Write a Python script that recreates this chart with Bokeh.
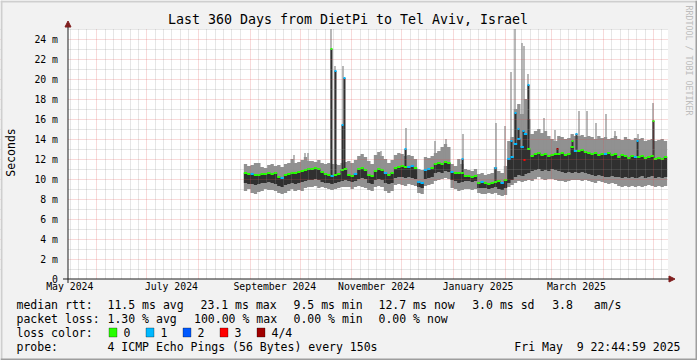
import numpy as np
import pandas as pd
from bokeh.plotting import figure
from bokeh.models import (Range1d, FixedTicker, Label, Arrow, NormalHead,
                          BoxAnnotation, ColumnDataSource)
from bokeh.embed import file_html
from bokeh.resources import INLINE

# ------------------------------------------------------------------ data
graph_end = "2025-05-09 22:44:59"
graph_days = 360
first_sample = "2024-08-28 10:45"
sample_step_days = 2

median_ms = [10.6, 10.5, 10.5, 10.4, 10.4, 10.5, 10.5, 10.6, 10.5, 10.6,
             10.2, 10.1, 10.4, 10.5, 10.6, 10.6, 10.7, 10.8, 10.9, 11.0,
             11.0, 11.1, 11.0, 10.7, 10.5, 10.4, 10.3, 10.4, 10.5, 10.9,
             11.0, 10.4, 10.3, 10.5, 11.0, 11.1, 10.9, 10.4, 10.3, 10.8,
             11.0, 10.9, 10.6, 10.4, 10.6, 11.1, 11.2, 11.3, 11.2, 11.2,
             11.3, 11.1, 9.7, 9.6, 10.9, 11.0, 11.1, 11.5, 11.6, 11.5,
             11.7, 11.6, 10.7, 10.6, 10.6, 10.6, 10.3, 10.3, 10.2, 10.3,
             9.6, 9.7, 9.6, 9.5, 9.6, 9.7, 9.8, 9.6, 9.9, 12.0,
             12.2, 13.5, 14.0, 13.2, 14.5, 13.0, 12.3, 12.5, 12.6, 12.4,
             12.5, 12.3, 12.4, 12.5, 12.5, 12.6, 12.4, 12.5, 13.2, 12.8,
             12.8, 12.9, 12.7, 12.6, 12.5, 12.6, 12.4, 12.5, 12.5, 12.6,
             12.4, 12.5, 12.2, 12.4, 12.3, 12.1, 12.3, 12.2, 12.2, 12.3,
             12.1, 12.2, 12.3, 12.0, 12.1, 12.0, 12.2]
smoke_max_ms = [11.5, 11.3, 11.4, 11.6, 11.6, 11.2, 11.1, 11.4, 11.5, 11.3,
                11.4, 11.2, 11.5, 11.6, 12.0, 11.6, 11.7, 11.9, 12.2, 11.8,
                11.8, 11.7, 11.9, 11.6, 11.5, 11.6, 11.5, 11.5, 11.4, 11.6,
                11.7, 11.8, 11.6, 11.9, 12.3, 12.5, 12.2, 11.8, 11.5, 12.4,
                12.7, 12.3, 12.0, 11.6, 11.9, 12.4, 12.6, 12.5, 12.3, 12.4,
                12.3, 12.0, 11.0, 10.9, 12.2, 12.1, 12.3, 12.6, 12.8, 13.2,
                13.5, 13.2, 11.5, 11.3, 12.0, 11.5, 11.0, 10.9, 10.8, 11.0,
                10.5, 10.6, 10.4, 10.5, 10.6, 11.2, 10.8, 10.6, 11.3, 13.8,
                14.2, 17.0, 17.5, 16.5, 18.0, 16.0, 14.5, 14.8, 15.0, 14.6,
                14.8, 14.3, 14.0, 13.8, 14.3, 14.2, 14.0, 14.1, 14.5, 14.3,
                14.3, 14.4, 14.2, 14.3, 14.2, 14.0, 14.3, 14.1, 14.2, 14.0,
                14.1, 14.3, 14.0, 13.9, 14.2, 14.0, 13.9, 14.1, 14.0, 14.1,
                13.8, 13.9, 14.0, 13.8, 13.9, 14.0, 13.8]
smoke_min_ms = [8.8, 9.0, 8.6, 8.5, 8.7, 8.8, 9.0, 8.9, 8.9, 8.8,
                8.6, 8.5, 8.6, 8.8, 9.0, 8.8, 8.9, 8.8, 9.1, 9.2,
                9.2, 9.3, 9.1, 9.2, 9.1, 9.0, 8.9, 9.0, 9.1, 9.2,
                9.2, 9.2, 9.0, 9.2, 9.3, 9.2, 9.1, 8.9, 8.8, 9.2,
                9.3, 9.2, 8.8, 8.6, 8.8, 9.4, 9.5, 9.4, 9.3, 9.5,
                9.4, 9.3, 8.6, 8.5, 9.3, 9.4, 9.5, 9.8, 9.9, 10.0,
                10.1, 10.0, 9.1, 9.0, 8.8, 8.9, 9.0, 9.0, 8.9, 9.0,
                8.6, 8.5, 8.5, 8.6, 8.5, 8.6, 8.4, 8.3, 8.4, 9.2,
                9.4, 9.6, 9.8, 9.7, 9.8, 9.9, 9.8, 10.0, 10.2, 10.0,
                9.9, 10.0, 10.0, 9.9, 9.8, 9.8, 9.7, 9.8, 9.9, 9.9,
                9.9, 9.8, 9.9, 9.8, 9.7, 9.6, 9.8, 9.7, 9.6, 9.5,
                9.6, 9.5, 9.3, 9.2, 9.3, 9.2, 9.3, 9.2, 9.3, 9.2,
                9.3, 9.4, 9.3, 9.2, 9.3, 9.2, 9.3]
core_min_ms = [9.6, 9.5, 9.5, 9.4, 9.5, 9.6, 9.6, 9.7, 9.6, 9.5,
               9.3, 9.2, 9.4, 9.5, 9.6, 9.5, 9.6, 9.7, 9.8, 9.9,
               9.9, 10.0, 9.9, 9.7, 9.6, 9.6, 9.5, 9.6, 9.7, 9.8,
               9.9, 9.8, 9.7, 9.8, 10.0, 10.1, 10.0, 9.6, 9.5, 9.9,
               10.0, 9.9, 9.6, 9.5, 9.6, 10.1, 10.2, 10.2, 10.1, 10.2,
               10.1, 10.0, 9.2, 9.1, 10.0, 10.1, 10.2, 10.6, 10.7, 10.6,
               10.8, 10.7, 9.9, 9.8, 9.6, 9.7, 9.8, 9.8, 9.7, 9.8,
               9.1, 9.1, 9.1, 9.0, 9.1, 9.2, 9.0, 8.9, 9.1, 9.6,
               9.9, 10.2, 10.4, 10.3, 10.5, 10.6, 10.8, 10.9, 11.0, 10.8,
               10.9, 10.8, 11.0, 10.9, 10.8, 10.7, 10.6, 10.7, 10.6, 10.7,
               10.6, 10.7, 10.6, 10.5, 10.4, 10.3, 10.4, 10.3, 10.2, 10.2,
               10.3, 10.2, 10.2, 10.1, 10.2, 10.1, 10.2, 10.1, 10.2, 10.3,
               10.1, 10.2, 10.3, 10.1, 10.2, 10.1, 10.2]
loss_level = [0, 0, 1, 0, 0, 0, 0, 0, 0, 0,
              0, 1, 0, 0, 0, 0, 0, 0, 0, 0,
              0, 0, 0, 0, 0, 0, 1, 0, 0, 0,
              0, 0, 0, 1, 0, 0, 0, 0, 0, 0,
              0, 0, 1, 0, 0, 0, 0, 0, 0, 1,
              1, 0, 1, 1, 1, 1, 0, 0, 0, 0,
              0, 0, 1, 0, 0, 0, 0, 0, 0, 0,
              0, 1, 0, 0, 0, 0, 0, 1, 0, 1,
              1, 1, 1, 1, 1, 0, 0, 0, 0, 0,
              0, 0, 0, 0, 0, 0, 0, 0, 0, 1,
              0, 0, 0, 0, 0, 0, 0, 0, 1, 0,
              0, 0, 0, 0, 0, 0, 0, 1, 0, 0,
              0, 0, 0, 0, 0, 0, 0]

# single-column excursions of the slowest ping
peak_time = ["2024-09-27 13:00", "2024-10-04 04:00", "2024-10-05 23:00", "2024-10-19 18:00",
             "2024-10-22 04:00", "2024-10-26 23:00", "2024-11-18 18:00", "2024-12-03 18:00",
             "2024-12-21 04:00", "2024-12-27 18:00", "2025-01-06 23:00", "2025-01-26 18:00",
             "2025-02-01 04:00", "2025-02-04 18:00", "2025-02-07 04:00", "2025-02-11 09:00",
             "2025-02-12 13:00", "2025-02-14 23:00", "2025-02-24 13:00", "2025-03-03 04:00",
             "2025-03-17 13:00", "2025-03-22 09:00", "2025-03-27 18:00", "2025-04-02 18:00",
             "2025-04-08 04:00", "2025-04-21 23:00", "2025-04-30 23:00"]
peak_max_ms = [12.4, 12.6, 12.6, 25.5, 21.3, 21.3, 12.8, 15.1, 13.8, 14.0, 14.5, 15.6,
               15.3, 20.7, 25.5, 23.6, 23.3, 20.5, 16.1, 14.9, 16.8, 16.8, 15.6, 16.5,
               14.8, 14.5, 17.6]
# single-column excursions of the median
jump_time = ["2024-10-19 18:00", "2024-10-22 04:00", "2024-10-26 09:00", "2024-10-27 13:00",
             "2024-12-03 04:00", "2025-01-06 09:00", "2025-01-26 04:00", "2025-02-04 18:00",
             "2025-02-07 04:00", "2025-02-08 23:00", "2025-02-11 23:00", "2025-02-12 13:00",
             "2025-02-14 23:00", "2025-03-04 09:00", "2025-03-13 09:00", "2025-03-15 18:00",
             "2025-04-21 09:00", "2025-04-30 23:00"]
jump_median_ms = [23.0, 20.8, 15.4, 20.1, 13.0, 12.0, 11.1, 13.8, 16.6, 15.0, 14.8, 11.9,
                  19.4, 13.0, 13.8, 14.5, 13.8, 15.8]
jump_loss = [0, 1, 1, 1, 1, 1, 1, 1, 1, 1, 1, 3, 1, 4, 0, 1, 1, 0]

loss_labels = ["0", "1", "2", "3", "4/4"]
loss_colors = ["#26ff00", "#00b8ff", "#0059ff", "#ff0000", "#a00000"]

y_ticks = [0, 2, 4, 6, 8, 10, 12, 14, 16, 18, 20, 22, 24]
y_tick_labels = ["0", "2 m", "4 m", "6 m", "8 m", "10 m", "12 m", "14 m", "16 m",
                 "18 m", "20 m", "22 m", "24 m"]
y_minor = [1, 3, 5, 7, 9, 11, 13, 15, 17, 19, 21, 23, 25]
y_top = 25

x_label_dates = ["2024-05-16", "2024-07-16", "2024-09-16", "2024-11-16", "2025-01-16", "2025-03-16"]
x_labels = ["May 2024", "July 2024", "September 2024", "November 2024", "January 2025", "March 2025"]
month_starts = ["2024-06-01", "2024-07-01", "2024-08-01", "2024-09-01", "2024-10-01", "2024-11-01",
                "2024-12-01", "2025-01-01", "2025-02-01", "2025-03-01", "2025-04-01", "2025-05-01"]
minor_days = [6, 11, 16, 21, 26]

title = "Last 360 Days from DietPi to Tel Aviv, Israel"
legend_rows = [
    [("median rtt:", 16), ("11.5 ms avg", 107), ("23.1 ms max", 200), ("9.5 ms min", 293),
     ("12.7 ms now", 378), ("3.0 ms sd", 471.7), ("3.8", 551.7), ("am/s", 593.3)],
    [("packet loss:", 16), ("1.30 % avg", 107), ("100.00 % max", 193.5), ("0.00 % min", 293),
     ("0.00 % now", 378)],
]
probe_text = "4 ICMP Echo Pings (56 Bytes) every 150s"
stamp_text = "Fri May  9 22:44:59 2025"

# ------------------------------------------------------------------ helpers
DAY = 86400000.0


def ms(s):
    return pd.Timestamp(s).value / 1e6


t_end = ms(graph_end)
t_start = t_end - graph_days * DAY

W, H = 697, 360
FL, FR, FT, FB = 67.5, 667.5, 28.5, 278.5   # graph-canvas edges (pixel centres)


def X(px):
    return t_start + (px - FL) / (FR - FL) * (t_end - t_start)


def PX(t):
    return FL + (np.asarray(t) - t_start) / (t_end - t_start) * (FR - FL)


def Y(py):
    return (FB - py) / (FB - FT) * y_top


def nb(s):
    return s.replace(" ", "\u00a0")


FONT = "DejaVu Sans Mono"
BACK = "#f2f2f2"

n = len(median_ms)
t0 = ms(first_sample)
left = np.array([t0 + i * sample_step_days * DAY for i in range(n)])
right = left + sample_step_days * DAY
edges = np.append(left, right[-1])


def ext(a):
    return list(a) + [a[-1]]


p = figure(width=W, height=H, output_backend="svg", toolbar_location=None,
           x_axis_type="datetime",
           x_range=Range1d(X(0), X(W)), y_range=Range1d(Y(H), Y(0)),
           min_border_left=0, min_border_right=0, min_border_top=0, min_border_bottom=0,
           background_fill_color=BACK, border_fill_color=BACK,
           outline_line_color=None)

# white canvas of the graph
p.add_layout(BoxAnnotation(left=t_start, right=t_end, bottom=0, top=y_top,
                           fill_color="white", fill_alpha=1, line_color=None, level="image"))

GRAY, DARK = "#919191", "#303030"

# smoke: outer band
p.varea_step(x=list(edges), y1=ext(smoke_min_ms), y2=ext(smoke_max_ms),
             step_mode="after", fill_color=GRAY)

# one-pixel-column excursions, drawn on whole screen columns as rrdtool does
pk_t = np.array([ms(s) for s in peak_time])
pk_x = X(np.floor(PX(pk_t)) + 0.5)
pk_idx = np.clip(np.searchsorted(left, pk_t, side="right") - 1, 0, n - 1)
p.segment(x0=pk_x, x1=pk_x, y0=np.array(smoke_min_ms)[pk_idx], y1=peak_max_ms,
          line_color=GRAY, line_width=1.3, line_cap="butt")

# smoke: inner band
p.varea_step(x=list(edges), y1=ext(core_min_ms), y2=ext(median_ms),
             step_mode="after", fill_color=DARK)

jm_t = np.array([ms(s) for s in jump_time])
jm_col = np.floor(PX(jm_t))
jm_idx = np.clip(np.searchsorted(left, jm_t, side="right") - 1, 0, n - 1)
p.quad(left=X(jm_col), right=X(jm_col + 2),
       bottom=np.array(core_min_ms)[jm_idx], top=jump_median_ms,
       fill_color=DARK, line_color=None)

# median markers coloured by loss
med_src = ColumnDataSource(dict(l=left, r=right, m=median_ms,
                                c=[loss_colors[k] for k in loss_level]))
p.segment(x0="l", x1="r", y0="m", y1="m", line_color="c", line_width=2.2,
          line_cap="butt", source=med_src)
p.segment(x0=X(jm_col), x1=X(jm_col + 2), y0=jump_median_ms, y1=jump_median_ms,
          line_color=[loss_colors[k] for k in jump_loss], line_width=2.2, line_cap="butt")

# ------------------------------------------------------------------ grid
def snap(t):
    # put a grid line on a whole screen pixel, as rrdtool does
    return float(X(np.floor(PX(t)) + 0.5))


month_ms = [snap(ms(s)) for s in month_starts]
minor_ms = []
for yy in (2024, 2025):
    for m in range(1, 13):
        for d in minor_days:
            t = ms(f"{yy}-{m:02d}-{d:02d}")
            if t_start < t < t_end:
                minor_ms.append(snap(t))

p.xgrid.ticker = FixedTicker(ticks=month_ms, minor_ticks=minor_ms)
p.ygrid.ticker = FixedTicker(ticks=y_ticks[1:], minor_ticks=y_minor)
for g in (p.xgrid, p.ygrid):
    g.level = "guide"
    g.grid_line_color = "#de4f4f"
    g.grid_line_alpha = 0.42
    g.grid_line_dash = "1 1"
    g.minor_grid_line_color = "#8f8f8f"
    g.minor_grid_line_alpha = 0.45
    g.minor_grid_line_dash = "1 1"

# mask everything outside the graph canvas (keeps grid and smoke inside)
for kw in [dict(right=t_start), dict(left=t_end), dict(bottom=y_top, left=t_start, right=t_end),
           dict(top=0, left=t_start, right=t_end)]:
    p.add_layout(BoxAnnotation(fill_color=BACK, fill_alpha=1, line_color=None,
                               level="annotation", **kw))

# ------------------------------------------------------------------ axes
label_ms = [int(ms(s)) for s in x_label_dates]
p.xaxis.fixed_location = 0
p.xaxis.bounds = (t_start, t_end)
p.xaxis.level = "overlay"
p.xaxis.ticker = FixedTicker(ticks=label_ms)
p.xaxis.major_label_overrides = dict(zip(label_ms, x_labels))
p.xaxis.major_label_text_font = FONT
p.xaxis.major_label_text_font_size = "9.8px"
p.xaxis.major_label_text_color = "black"
p.xaxis.major_label_standoff = -4
p.xaxis.major_tick_line_color = None
p.xaxis.minor_tick_line_color = None
p.xaxis.axis_line_color = None

p.yaxis.fixed_location = t_start
p.yaxis.bounds = (0, y_top)
p.yaxis.level = "overlay"
p.yaxis.ticker = FixedTicker(ticks=y_ticks)
p.yaxis.major_label_overrides = dict(zip(y_ticks, y_tick_labels))
p.yaxis.major_label_text_font = FONT
p.yaxis.major_label_text_font_size = "9.8px"
p.yaxis.major_label_text_color = "black"
p.yaxis.major_label_standoff = 4
p.yaxis.major_tick_line_color = None
p.yaxis.minor_tick_line_color = None
p.yaxis.axis_line_color = None

AXIS, ARROW = "#1f1f1f", "#801f1f"
p.add_layout(Arrow(end=NormalHead(size=6, fill_color=ARROW, line_color=ARROW),
                   x_start=X(62.5), y_start=0, x_end=X(674.5), y_end=0,
                   line_color=AXIS, line_width=1, level="overlay"))
p.add_layout(Arrow(end=NormalHead(size=6, fill_color=ARROW, line_color=ARROW),
                   x_start=t_start, y_start=Y(282.5), x_end=t_start, y_end=Y(20.5),
                   line_color=AXIS, line_width=1, level="overlay"))

# ------------------------------------------------------------------ texts


def text(s, px, py, size="11.5px", align="left", color="black", angle=0.0):
    p.add_layout(Label(x=X(px), y=Y(py), text=nb(s), text_font=FONT, text_font_size=size,
                       text_align=align, text_baseline="middle", text_color=color,
                       angle=angle, level="overlay"))


text(title, 347.5, 19, size="13.3px", align="center")
text("RRDTOOL / TOBI OETIKER", 688, 5, size="8.3px", color="#bdbdbd", angle=-np.pi / 2)
text("Seconds", 10.5, 152, size="11.5px", align="center", angle=np.pi / 2)

rows_y = [304, 318, 332, 346]
for row, yy in zip(legend_rows, rows_y):
    for s, xx in row:
        text(s, xx, yy)

text("loss color:", 16, rows_y[2])
box_x = [108.5, 145.5, 182.5, 219.5, 256.5]
for lab, col, bx in zip(loss_labels, loss_colors, box_x):
    p.add_layout(BoxAnnotation(left=X(bx), right=X(bx + 8), top=Y(327.5), bottom=Y(336.5),
                               fill_color=col, fill_alpha=1, line_color="black",
                               line_width=1, level="overlay"))
    text(lab, bx + 14.5, rows_y[2])

text("probe:", 16, rows_y[3])
text(probe_text, 107, rows_y[3])
text(stamp_text, 680, rows_y[3], align="right")

# 3-D frame around the picture
for (l, r, t, b, c) in [(0, W, 0, 2, "#cfcfcf"), (0, 2, 0, H, "#cfcfcf"),
                        (0, W, H - 2, H, "#9e9e9e"), (W - 2, W, 0, H, "#9e9e9e")]:
    p.add_layout(BoxAnnotation(left=X(l), right=X(r), top=Y(t), bottom=Y(b),
                               fill_color=c, fill_alpha=1, line_color=None, level="overlay"))

html = file_html(p, INLINE)
html = html.replace("<head>", "<head><style>html,body{margin:0;padding:0;overflow:hidden}</style>", 1)
open("out.html", "w").write(html)
